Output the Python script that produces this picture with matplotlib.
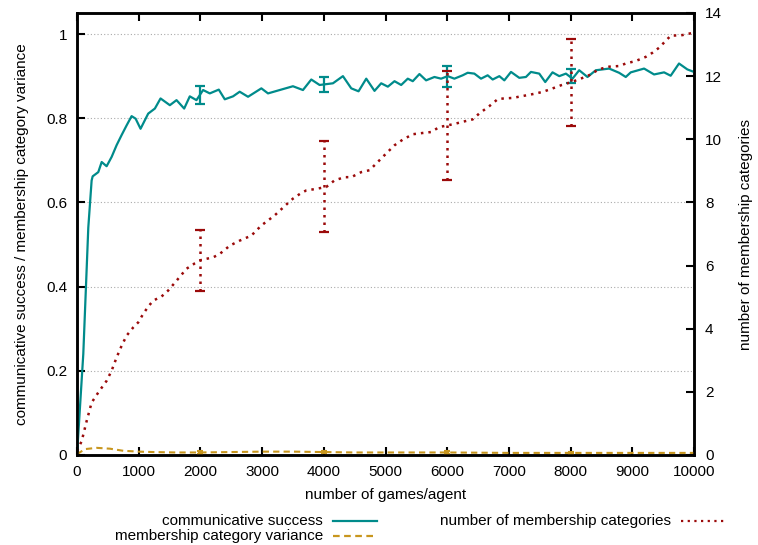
import matplotlib
matplotlib.use("Agg")
import matplotlib.pyplot as plt
from matplotlib.lines import Line2D

plt.rcParams["font.family"] = ["Liberation Sans", "DejaVu Sans"]
plt.rcParams["font.size"] = 11

# communicative success (left axis)
success_games = [0, 102, 183, 237, 254, 345, 400, 480, 561, 642, 723, 804, 885, 950, 1030,
                 1154, 1262, 1354, 1505, 1613, 1737, 1828, 1936, 2044, 2152, 2298, 2395, 2529,
                 2637, 2772, 2988, 3096, 3285, 3500, 3662, 3797, 3932, 4148, 4310, 4445, 4563,
                 4688, 4822, 4930, 5038, 5146, 5254, 5361, 5442, 5550, 5658, 5793, 5901, 6008,
                 6116, 6251, 6332, 6440, 6548, 6656, 6737, 6845, 6926, 7034, 7168, 7276, 7357,
                 7492, 7589, 7707, 7816, 7924, 8031, 8139, 8274, 8409, 8625, 8786, 8894, 8975,
                 9191, 9353, 9515, 9622, 9757, 9892, 10000]
success = [0.0, 0.24, 0.54, 0.652, 0.662, 0.672, 0.696, 0.686, 0.708, 0.736, 0.76, 0.783,
           0.805, 0.799, 0.775, 0.811, 0.823, 0.847, 0.831, 0.843, 0.823, 0.852, 0.843, 0.867,
           0.859, 0.868, 0.845, 0.852, 0.863, 0.851, 0.871, 0.859, 0.867, 0.876, 0.867, 0.892,
           0.879, 0.883, 0.9, 0.871, 0.864, 0.894, 0.865, 0.883, 0.875, 0.888, 0.879, 0.894,
           0.888, 0.905, 0.89, 0.898, 0.894, 0.9, 0.894, 0.902, 0.908, 0.906, 0.894, 0.902,
           0.892, 0.9, 0.89, 0.91, 0.896, 0.898, 0.91, 0.906, 0.886, 0.909, 0.9, 0.906, 0.894,
           0.914, 0.898, 0.914, 0.918, 0.908, 0.898, 0.909, 0.918, 0.904, 0.909, 0.901, 0.93,
           0.916, 0.91]

# membership category variance (left axis)
variance_games = [0, 130, 319, 534, 750, 1000, 1235, 1600, 2000, 2500, 3000, 3500, 4000,
                  4500, 5000, 6000, 7000, 8000, 9000, 10000]
variance = [0.002, 0.014, 0.017, 0.015, 0.01, 0.008, 0.007, 0.006, 0.006, 0.007, 0.008, 0.008,
            0.007, 0.006, 0.006, 0.006, 0.005, 0.005, 0.005, 0.005]

# number of membership categories (right axis)
count_games = [0, 76, 157, 237, 345, 480, 561, 642, 723, 804, 911, 992, 1073, 1154, 1235, 1370,
               1478, 1613, 1775, 1909, 2017, 2206, 2314, 2476, 2637, 2826, 2988, 3204, 3419,
               3500, 3635, 3716, 3878, 4040, 4175, 4337, 4445, 4607, 4741, 4849, 5011, 5146,
               5280, 5442, 5604, 5739, 5874, 6008, 6143, 6305, 6413, 6521, 6683, 6818, 6899,
               7061, 7222, 7384, 7546, 7707, 7843, 7993, 8139, 8301, 8463, 8625, 8786, 8894,
               9056, 9218, 9326, 9434, 9542, 9622, 9811, 10000]
count = [0.13, 0.44, 1.08, 1.66, 1.98, 2.35, 2.67, 3.09, 3.46, 3.78, 4.04, 4.2, 4.47, 4.7,
         4.89, 5.02, 5.21, 5.52, 5.9, 6.07, 6.18, 6.26, 6.37, 6.63, 6.79, 6.95, 7.27, 7.59,
         7.98, 8.12, 8.3, 8.38, 8.43, 8.49, 8.7, 8.8, 8.8, 8.96, 9.02, 9.23, 9.55, 9.81, 9.99,
         10.16, 10.2, 10.23, 10.39, 10.44, 10.5, 10.58, 10.63, 10.82, 11.05, 11.27, 11.29,
         11.31, 11.37, 11.43, 11.5, 11.61, 11.71, 11.8, 11.9, 12.03, 12.22, 12.3, 12.32, 12.4,
         12.48, 12.61, 12.74, 12.9, 13.12, 13.28, 13.3, 13.38]

# error bars
err_games = [2000, 4000, 6000, 8000]
success_mean = [0.855, 0.88, 0.90, 0.90]
success_err = [0.022, 0.017, 0.025, 0.016]
variance_mean = [0.006, 0.007, 0.006, 0.005]
variance_err = [0.003, 0.003, 0.003, 0.003]
count_mean = [6.17, 8.5, 10.44, 11.8]
count_err = [0.96, 1.44, 1.72, 1.38]

teal = "#008b8b"
gold = "#c8961e"
red = "#9b0a0a"
dots = (0, (1, 2))

fig = plt.figure(figsize=(7.58, 5.45), dpi=100)
ax = fig.add_axes([77 / 758, 1 - 455 / 545, (694 - 77) / 758, (455 - 13) / 545])
ax2 = ax.twinx()

ax.plot(success_games, success, color=teal, lw=1.6, zorder=3)
ax.errorbar(err_games, success_mean, yerr=success_err, fmt="none", ecolor=teal,
            elinewidth=1.6, capsize=3.5, capthick=1.6, zorder=3)
ax.plot(variance_games, variance, color=gold, lw=1.5, linestyle=(0, (3, 2)), zorder=3)
ax.errorbar(err_games, variance_mean, yerr=variance_err, fmt="none", ecolor=gold,
            elinewidth=3, capsize=2, capthick=1.5, zorder=3)

ax2.plot(count_games, count, color=red, lw=1.8, linestyle=dots)
eb = ax2.errorbar(err_games, count_mean, yerr=count_err, fmt="none", ecolor=red,
                  elinewidth=1.8, capsize=3.5, capthick=1.6)
for lc in eb[2]:
    lc.set_linestyle(dots)

ax.set_xlim(0, 10000)
ax.set_ylim(0, 1.05)
ax2.set_ylim(0, 14)
ax.set_xticks(range(0, 10001, 1000))
ax.set_yticks([0, 0.2, 0.4, 0.6, 0.8, 1])
ax.set_yticklabels(["0", "0.2", "0.4", "0.6", "0.8", "1"])
ax2.set_yticks(range(0, 15, 2))

ax.yaxis.grid(True, linestyle=(0, (1, 2)), color="#aaaaaa", lw=0.8)
ax.set_axisbelow(True)

ax.tick_params(axis="x", direction="in", top=True, length=6, width=1.5, pad=7)
ax.tick_params(axis="y", direction="in", right=False, length=6, width=1.5, pad=7)
ax2.tick_params(axis="y", direction="in", length=6, width=1.5, pad=8)

for a in (ax, ax2):
    for s in a.spines.values():
        s.set_linewidth(1.8)

ax.set_xlabel("number of games/agent", labelpad=7)
ax.set_ylabel("communicative success / membership category variance", labelpad=12)
ax2.set_ylabel("number of membership categories", labelpad=12)

# legend drawn gnuplot-style: text right-aligned, sample after it
def legend_entry(x_text, y, label, color, ls):
    fig.text(x_text / 758, 1 - y / 545, label, ha="right", va="center")
    fig.add_artist(Line2D([(x_text + 10) / 758, (x_text + 54) / 758], [1 - y / 545] * 2,
                          color=color, lw=1.6, linestyle=ls, transform=fig.transFigure))

legend_entry(323, 521, "communicative success", teal, "-")
legend_entry(323, 536, "membership category variance", gold, (0, (3, 2)))
legend_entry(671, 521, "number of membership categories", red, dots)

fig.savefig("out.png", dpi=100)
